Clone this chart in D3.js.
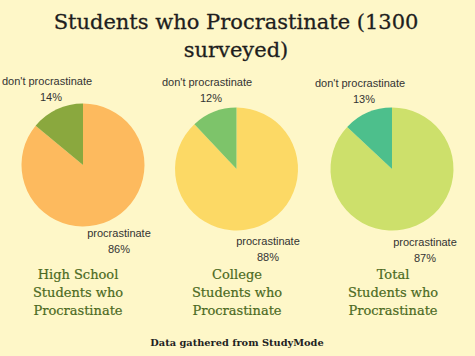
<!DOCTYPE html>
<html><head><meta charset="utf-8">
<script src="https://cdn.jsdelivr.net/npm/d3@7"></script>
<style>
html,body{margin:0;padding:0;background:#fef7c8;}
svg{display:block;}
</style></head>
<body>
<script>
const titleLines = ["Students who Procrastinate (1300", "surveyed)"];
const groups = ["High School", "College", "Total"];
const captionLines = [["High School","Students who","Procrastinate"],["College","Students who","Procrastinate"],["Total","Students who","Procrastinate"]];
const sliceNames = ["procrastinate", "don't procrastinate"];
const procrastinate = [86, 88, 87];
const dontProcrastinate = [14, 12, 13];
const bigColors = ["#fdba5e", "#fcd965", "#cde06b"];
const smallColors = ["#8aa83e", "#7dc46a", "#4dbf8c"];
const source = "Data gathered from StudyMode";

const W = 475, H = 356;
const svg = d3.select("body").append("svg").attr("width", W).attr("height", H);
svg.append("rect").attr("width", W).attr("height", H).attr("fill", "#fef7c8");

const serif = "'DejaVu Serif', 'Liberation Serif', serif";
const sans = "'Liberation Sans', Arial, sans-serif";

svg.selectAll("text.title").data(titleLines).join("text")
  .attr("class","title").attr("x", 236).attr("y", (d,i)=>29 + i*28)
  .attr("text-anchor","middle").attr("font-family", serif).attr("font-size", 21)
  .attr("fill","#1e1e1e").attr("stroke","#1e1e1e").attr("stroke-width",0.3).text(d=>d);

const centers = [{x:83,y:165},{x:236.5,y:169},{x:392,y:169}];
const radius = 61.5;
const pie = d3.pie().sort(null).value(d=>d.v).startAngle(0).endAngle(2*Math.PI);
const arc = d3.arc().innerRadius(0).outerRadius(radius);

const topLabel = [{x:47,y:85},{x:207,y:86},{x:360,y:87}];
const botLabel = [{x:119,y:237},{x:268,y:245},{x:425,y:246}];

groups.forEach((g, i) => {
  const data = [
    {name: sliceNames[0], v: procrastinate[i], c: bigColors[i]},
    {name: sliceNames[1], v: dontProcrastinate[i], c: smallColors[i]}
  ];
  const gg = svg.append("g").attr("transform", `translate(${centers[i].x},${centers[i].y})`);
  gg.selectAll("path").data(pie(data)).join("path")
    .attr("d", arc).attr("fill", d=>d.data.c);

  const lt = svg.append("text").attr("font-family", sans).attr("font-size", 11)
    .attr("fill","#333").attr("text-anchor","middle");
  lt.append("tspan").attr("x", topLabel[i].x).attr("y", topLabel[i].y).text(sliceNames[1]);
  lt.append("tspan").attr("x", topLabel[i].x + 4).attr("y", topLabel[i].y + 15.5).text(dontProcrastinate[i] + "%");

  const lb = svg.append("text").attr("font-family", sans).attr("font-size", 11)
    .attr("fill","#333").attr("text-anchor","middle");
  lb.append("tspan").attr("x", botLabel[i].x).attr("y", botLabel[i].y).text(sliceNames[0]);
  lb.append("tspan").attr("x", botLabel[i].x).attr("y", botLabel[i].y + 15.5).text(procrastinate[i] + "%");

  const cx = [78, 237, 393][i];
  svg.append("g").selectAll("text").data(captionLines[i]).join("text")
    .attr("x", cx).attr("y", (d,k)=>279 + k*18)
    .attr("text-anchor","middle").attr("font-family", serif).attr("font-size", 13)
    .attr("fill","#4b6a22").attr("stroke","#4b6a22").attr("stroke-width",0.2).text(d=>d);
});

svg.append("text").attr("x", 237).attr("y", 346).attr("text-anchor","middle")
  .attr("font-family", serif).attr("font-size", 9.8).attr("font-weight","bold")
  .attr("fill","#222").text(source);
</script>
</body></html>
